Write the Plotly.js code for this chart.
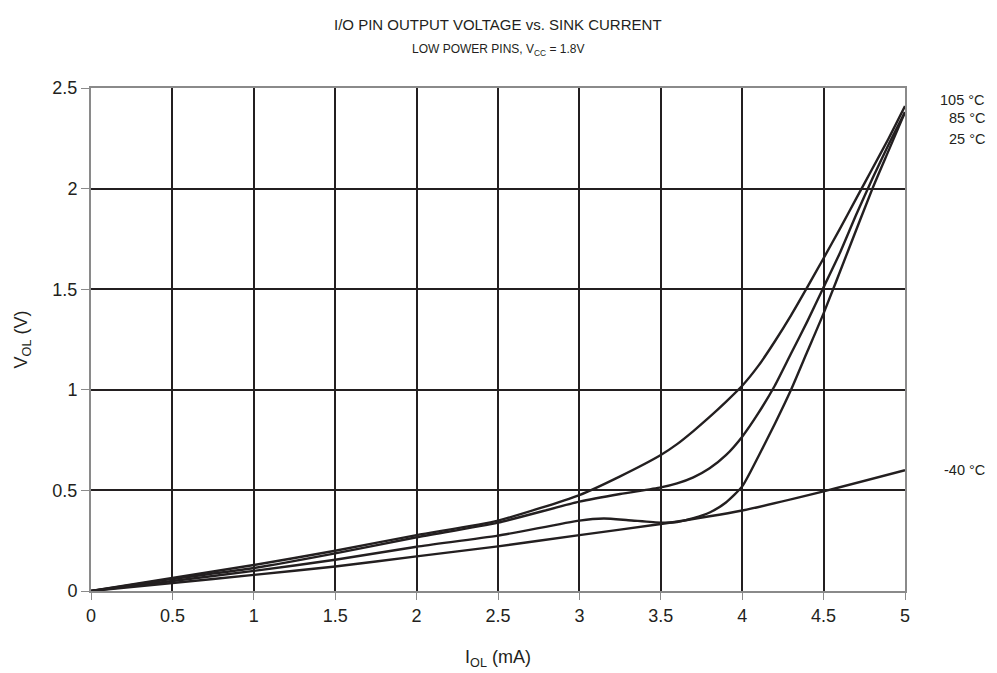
<!DOCTYPE html>
<html>
<head>
<meta charset="utf-8">
<script src="https://cdn.plot.ly/plotly-3.0.1.min.js"></script>
<style>html,body{margin:0;padding:0;background:#fff;}#chart{width:997px;height:673px;}</style>
</head>
<body>
<div id="chart"></div>
<script>
// Data
const x105 = [0, 0.5, 1, 1.5, 2, 2.5, 3, 3.25, 3.5, 3.6, 3.7, 3.8, 3.9, 4, 4.1, 4.2, 4.3, 4.4, 4.5, 4.6, 4.7, 4.8, 4.9, 5];
const y105 = [0, 0.065, 0.129, 0.2, 0.278, 0.35, 0.477, 0.57, 0.676, 0.73, 0.795, 0.865, 0.94, 1.02, 1.12, 1.24, 1.37, 1.51, 1.654, 1.8, 1.95, 2.1, 2.25, 2.41];

const x85 = [0, 0.5, 1, 1.5, 2, 2.5, 3, 3.25, 3.5, 3.6, 3.7, 3.8, 3.9, 4, 4.1, 4.2, 4.3, 4.4, 4.5, 4.6, 4.7, 4.8, 4.9, 5];
const y85 = [0, 0.06, 0.114, 0.187, 0.267, 0.34, 0.444, 0.482, 0.515, 0.535, 0.565, 0.61, 0.675, 0.767, 0.885, 1.02, 1.18, 1.34, 1.51, 1.68, 1.87, 2.05, 2.22, 2.38];

const x25 = [0, 0.5, 1, 1.5, 2, 2.5, 3, 3.15, 3.3, 3.5, 3.6, 3.7, 3.8, 3.9, 4, 4.1, 4.2, 4.3, 4.4, 4.5, 4.65, 4.8, 4.9, 5];
const y25 = [0, 0.05, 0.1, 0.155, 0.22, 0.275, 0.35, 0.36, 0.352, 0.34, 0.343, 0.362, 0.39, 0.44, 0.52, 0.67, 0.83, 1.0, 1.19, 1.38, 1.69, 2.0, 2.19, 2.38];

const xm40 = [0, 0.5, 1, 1.5, 2, 2.5, 3, 3.5, 4, 4.5, 5];
const ym40 = [0, 0.04, 0.08, 0.122, 0.172, 0.222, 0.278, 0.333, 0.4, 0.495, 0.6];

const seriesNames = ['105 °C', '85 °C', '25 °C', '-40 °C'];
const labelY = [2.44, 2.35, 2.245, 0.6];

const xTicks = [0, 0.5, 1, 1.5, 2, 2.5, 3, 3.5, 4, 4.5, 5];
const xTickText = ['0', '0.5', '1', '1.5', '2', '2.5', '3', '3.5', '4', '4.5', '5'];
const yTicks = [0, 0.5, 1, 1.5, 2, 2.5];
const yTickText = ['0', '0.5', '1', '1.5', '2', '2.5'];

const lineStyle = {color: '#231f20', width: 2.4, shape: 'spline', smoothing: 0.6};
const xs = [x105, x85, x25, xm40];
const ys = [y105, y85, y25, ym40];
const traces = xs.map((x, i) => ({
  x: x, y: ys[i], mode: 'lines', name: seriesNames[i],
  line: lineStyle, showlegend: false, hoverinfo: 'skip'
}));

const FAM = 'Liberation Sans';
const C = '#231f20';
function f(size) { return {family: FAM, size: size, color: C}; }

const annotations = [
  {text: 'I/O PIN OUTPUT VOLTAGE vs. SINK CURRENT', xref: 'paper', yref: 'paper', x: 0.5, y: 1, yshift: 74, showarrow: false, font: f(15)},
  {text: 'LOW POWER PINS, V<sub>CC</sub> = 1.8V', xref: 'paper', yref: 'paper', x: 0.5, y: 1, yshift: 48, showarrow: false, font: f(12)}
];
seriesNames.forEach((n, i) => {
  annotations.push({text: n, xref: 'paper', yref: 'y', x: 1, xshift: 82, xanchor: 'right', y: labelY[i], showarrow: false, font: f(14.5)});
});

const layout = {
  width: 997, height: 673,
  margin: {l: 91, r: 92, t: 88, b: 82},
  paper_bgcolor: '#fff', plot_bgcolor: '#fff',
  font: f(18),
  showlegend: false,
  annotations: annotations,
  xaxis: {
    range: [0, 5], tickvals: xTicks, ticktext: xTickText,
    showgrid: true, gridcolor: C, gridwidth: 2,
    zeroline: false, showline: true, linecolor: '#8a8a8a', linewidth: 2, mirror: true,
    ticks: 'outside', ticklen: 7, tickcolor: '#8a8a8a', tickwidth: 1,
    tickfont: f(18),
    title: {text: 'I<sub>OL</sub> (mA)', font: f(18), standoff: 26}
  },
  yaxis: {
    range: [0, 2.5], tickvals: yTicks, ticktext: yTickText,
    showgrid: true, gridcolor: C, gridwidth: 2,
    zeroline: false, showline: true, linecolor: '#8a8a8a', linewidth: 2, mirror: true,
    ticks: 'outside', ticklen: 8, tickcolor: '#8a8a8a', tickwidth: 1,
    tickfont: f(18),
    title: {text: 'V<sub>OL</sub> (V)', font: f(18), standoff: 20}
  }
};

Plotly.newPlot('chart', traces, layout, {displayModeBar: false, staticPlot: true});
</script>
</body>
</html>
